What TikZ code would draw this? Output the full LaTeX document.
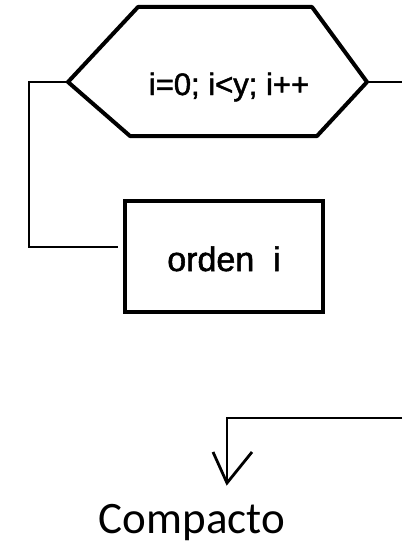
\documentclass[tikz,border=0pt]{standalone}
\usepackage{fontspec}
\setmainfont{Liberation Sans}
\newfontfamily\heavysans[FakeBold=1.6]{Liberation Sans}
\newfontfamily\calib{Carlito}
\tikzset{
  hexline/.style={line width=4pt, line join=round},
  conn/.style={line width=2.8pt},
  boxnode/.style={draw, line width=3.5pt, minimum width=198pt, minimum height=111pt, inner sep=0pt},
  lbl/.style={inner sep=0pt, anchor=base}
}
\begin{document}
\begin{tikzpicture}[x=1pt,y=-1pt]
\useasboundingbox (0,0) rectangle (402,543);
% hexagon vertices
\coordinate (hl) at (68,82);
\coordinate (htl) at (138,7);
\coordinate (htr) at (312,7);
\coordinate (hr) at (367,82);
\coordinate (hbr) at (317,136);
\coordinate (hbl) at (130,136);
\draw[hexline] (hl) -- (htl) -- (htr) -- (hr) -- (hbr) -- (hbl) -- cycle;
\node[lbl, font=\heavysans\fontsize{31}{36}\selectfont] (loop) at (229,95) {i=0; i<y; i++};
% box
\node[boxnode] (box) at (224,256.5) {};
\node[lbl, font=\heavysans\fontsize{34}{40}\selectfont] (ordtxt) at (224,271) {orden\ \ i};
% connectors
\coordinate (rightend) at (402,82);
\coordinate (lc1) at (29,82);
\coordinate (lc2) at (29,247);
\coordinate (lc3) at (118,247);
\draw[conn] (hl) -- (lc1) -- (lc2) -- (lc3);
\draw[conn] (hr) -- (rightend);
\coordinate (bstart) at (402,418);
\coordinate (bcorner) at (227,418);
\coordinate (btip) at (227,483);
\coordinate (awl) at (213,452);
\coordinate (awr) at (252,452);
\node[lbl, font=\calib\fontsize{45}{54}\selectfont] (comp) at (192,533) {Compacto};
\draw[conn] (bstart) -- (bcorner) -- (btip);
\draw[conn, line join=miter] (awl) -- (btip) -- (awr);
\end{tikzpicture}
\end{document}
